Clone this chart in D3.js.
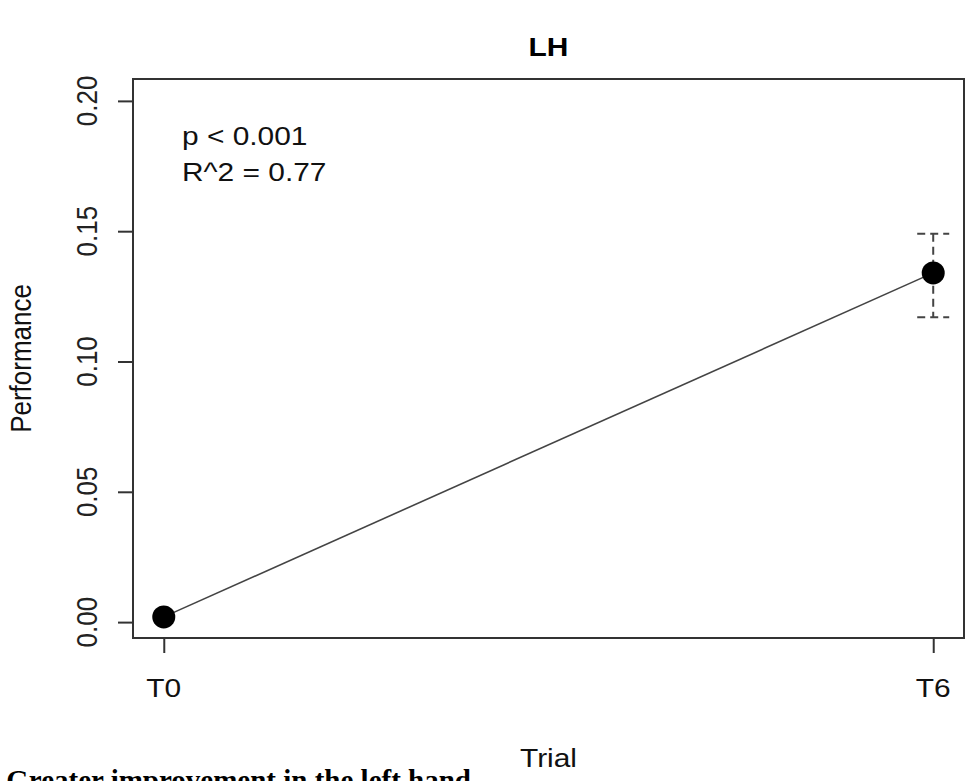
<!DOCTYPE html>
<html>
<head>
<meta charset="utf-8">
<script src="https://cdn.jsdelivr.net/npm/d3@7"></script>
<style>
  html, body { margin: 0; padding: 0; background: #fff; }
  svg { display: block; }
  text { font-family: "Liberation Sans", Arial, Helvetica, sans-serif; fill: #111; }
</style>
</head>
<body>
<svg id="chart" width="969" height="781"></svg>
<script>
// Trials and mean performance with error-bar limits
const trials = ["T0", "T6"];
const means  = [0.002, 0.134];
const lower  = [0.002, 0.117];
const upper  = [0.002, 0.149];

// Axis ticks
const yTicks = [0.00, 0.05, 0.10, 0.15, 0.20];
const yDomain = [-0.0061, 0.2084];

// Annotation text
const titleText = "LH";
const statLines = ["p < 0.001", "R^2 = 0.77"];
const xTitle = "Trial";
const yTitle = "Performance";
const caption = "Greater improvement in the left hand";

const svg = d3.select("#chart");
const plot = { left: 133, right: 964, top: 79, bottom: 638 };
const sx = 1.15;          // horizontal text stretch
const fs = 26;            // base font size

const x = d3.scaleLinear().domain([-0.04, 1.04]).range([plot.left, plot.right]);
const y = d3.scaleLinear().domain(yDomain).range([plot.bottom, plot.top]);
const xi = t => x(trials.indexOf(t));

// Frame
svg.append("rect")
  .attr("x", plot.left).attr("y", plot.top)
  .attr("width", plot.right - plot.left).attr("height", plot.bottom - plot.top)
  .attr("fill", "none").attr("stroke", "#333").attr("stroke-width", 2);

// Left axis
const yAxis = svg.append("g").attr("transform", `translate(${plot.left},0)`)
  .call(d3.axisLeft(y).tickValues(yTicks).tickSize(15).tickFormat(() => ""));
yAxis.select(".domain").attr("stroke", "#333").attr("stroke-width", 2)
  .attr("d", `M0,${y(yTicks[0])}V${y(yTicks[yTicks.length - 1])}`);
yAxis.selectAll(".tick line").attr("stroke", "#333").attr("stroke-width", 2);

svg.append("g").selectAll("text").data(yTicks).join("text")
  .attr("transform", d => `translate(97,${y(d)}) scale(${sx},1) rotate(-90)`)
  .attr("text-anchor", "middle")
  .style("font-size", fs + "px")
  .style("fill", "#222")
  .text(d => d3.format(".2f")(d));

// Bottom axis
const xAxis = svg.append("g").attr("transform", `translate(0,${plot.bottom})`)
  .call(d3.axisBottom(x).tickValues(trials.map((t, i) => i)).tickSize(15).tickFormat(() => ""));
xAxis.select(".domain").attr("stroke", "#333").attr("stroke-width", 2)
  .attr("d", `M${x(0)},0H${x(trials.length - 1)}`);
xAxis.selectAll(".tick line").attr("stroke", "#333").attr("stroke-width", 2);

svg.append("g").selectAll("text").data(trials).join("text")
  .attr("transform", t => `translate(${xi(t)},697) scale(${sx},1)`)
  .attr("text-anchor", "middle")
  .style("font-size", fs + "px")
  .text(t => t);

// Connecting line
svg.append("path")
  .datum(trials.map((t, i) => [xi(t), y(means[i])]))
  .attr("d", d3.line())
  .attr("fill", "none").attr("stroke", "#444").attr("stroke-width", 1.6);

// Error bars (dashed)
const eb = svg.append("g").attr("stroke", "#444").attr("stroke-width", 2)
  .attr("stroke-dasharray", "8,5").attr("fill", "none");
trials.forEach((t, i) => {
  if (upper[i] === lower[i]) return;
  const cx = xi(t);
  eb.append("line").attr("x1", cx).attr("x2", cx).attr("y1", y(upper[i])).attr("y2", y(lower[i]));
  [upper[i], lower[i]].forEach(v => {
    eb.append("line").attr("x1", cx - 16).attr("x2", cx + 16).attr("y1", y(v)).attr("y2", y(v));
  });
});

// Points
svg.append("g").selectAll("circle").data(trials).join("circle")
  .attr("cx", t => xi(t))
  .attr("cy", (t, i) => y(means[i]))
  .attr("r", 11.5)
  .attr("fill", "#000");

// Statistics annotation
svg.append("g").selectAll("text").data(statLines).join("text")
  .attr("transform", (d, i) => `translate(182,${145 + i * 36}) scale(${sx},1)`)
  .style("font-size", fs + "px")
  .text(d => d);

// Title
svg.append("text")
  .attr("transform", `translate(${(plot.left + plot.right) / 2},56) scale(${sx},1)`)
  .attr("text-anchor", "middle")
  .style("font-size", fs + "px").style("font-weight", "bold")
  .style("fill", "#000")
  .text(titleText);

// Axis titles
svg.append("text")
  .attr("transform", `translate(${(plot.left + plot.right) / 2},767) scale(${sx},1)`)
  .attr("text-anchor", "middle")
  .style("font-size", fs + "px")
  .text(xTitle);

svg.append("text")
  .attr("transform", `translate(31,${(plot.top + plot.bottom) / 2}) scale(${sx},1) rotate(-90)`)
  .attr("text-anchor", "middle")
  .style("font-size", fs + "px")
  .text(yTitle);

// Caption line below the figure, running off the bottom edge
svg.append("text")
  .attr("x", 471).attr("y", 790)
  .attr("text-anchor", "end")
  .style("font-family", "'Liberation Serif', 'Times New Roman', serif")
  .style("font-weight", "bold")
  .style("font-size", "29px")
  .style("fill", "#000")
  .text(caption);
</script>
</body>
</html>
